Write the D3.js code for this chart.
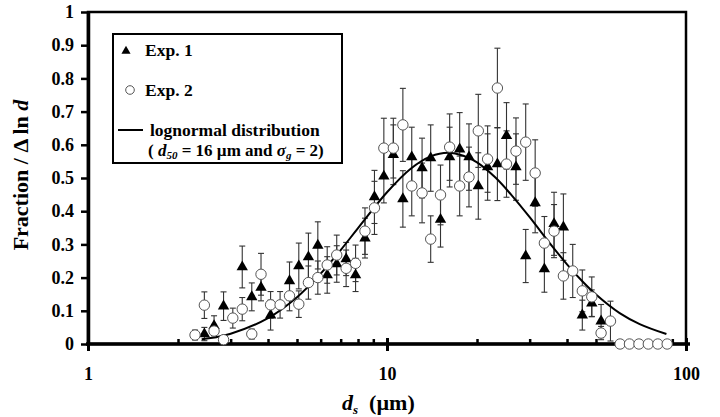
<!DOCTYPE html>
<html>
<head>
<meta charset="utf-8">
<script src="https://cdn.jsdelivr.net/npm/d3@7"></script>
<style>
body { margin: 0; background: #fff; }
.axis path, .axis line { stroke: #000; }
.errbar { stroke: #333; stroke-width: 1.1; }
</style>
</head>
<body>
<svg id="chart" width="720" height="417"></svg>
<script>
// Exp. 1 (triangles): particle size, fraction / dln d, error
const exp1D = [2.45, 2.64, 2.84, 3.28, 3.53, 3.79, 4.08, 4.72, 5.07, 5.46, 5.87, 6.31, 6.79, 7.30, 7.85, 8.44, 9.08, 9.76, 10.5, 11.3,
               12.1, 13.1, 14.0, 15.1, 16.2, 17.5, 18.8, 20.2, 21.7, 23.4, 25.1, 27.0, 29.1, 31.3, 33.6, 36.2, 38.9, 45.0, 48.4, 52.0];
const exp1Y = [0.03, 0.055, 0.114, 0.232, 0.142, 0.17, 0.087, 0.19, 0.235, 0.262, 0.297, 0.208, 0.241, 0.256, 0.208, 0.319, 0.443, 0.505, 0.57, 0.437,
               0.563, 0.53, 0.56, 0.375, 0.563, 0.587, 0.563, 0.476, 0.533, 0.542, 0.627, 0.533, 0.265, 0.425, 0.226, 0.362, 0.352, 0.087, 0.123, 0.069];
const exp1Err = [0.02, 0.03, 0.043, 0.063, 0.042, 0.04, 0.045, 0.057, 0.069, 0.072, 0.071, 0.055, 0.055, 0.05, 0.05, 0.06, 0.08, 0.08, 0.09, 0.085,
                 0.09, 0.09, 0.1, 0.083, 0.09, 0.11, 0.1, 0.1, 0.1, 0.11, 0.1, 0.1, 0.08, 0.09, 0.07, 0.095, 0.1, 0.045, 0.04, 0.05];

// Exp. 2 (open circles)
const exp2D = [2.28, 2.45, 2.64, 2.84, 3.05, 3.28, 3.53, 3.79, 4.08, 4.39, 4.72, 5.07, 5.46, 5.87, 6.31, 6.79, 7.30, 7.85, 8.44, 9.08,
               9.76, 10.5, 11.3, 12.1, 13.1, 14.0, 15.1, 16.2, 17.5, 18.8, 20.2, 21.7, 23.4, 25.1, 27.0, 29.1, 31.3, 33.6, 36.2, 38.9,
               41.8, 45.0, 48.4, 52.0, 55.9, 60.2, 64.7, 69.6, 74.8, 80.5, 86.5];
const exp2Y = [0.027, 0.117, 0.039, 0.013, 0.078, 0.105, 0.03, 0.21, 0.118, 0.118, 0.145, 0.12, 0.185, 0.20, 0.238, 0.268, 0.228, 0.243, 0.34, 0.41,
               0.59, 0.59, 0.66, 0.476, 0.455, 0.316, 0.449, 0.593, 0.476, 0.503, 0.642, 0.557, 0.771, 0.542, 0.581, 0.608, 0.515, 0.304, 0.34, 0.205,
               0.22, 0.16, 0.142, 0.033, 0.069, 0, 0, 0, 0, 0, 0];
const exp2Err = [0.015, 0.04, 0.02, 0.01, 0.03, 0.035, 0.015, 0.063, 0.04, 0.04, 0.045, 0.04, 0.05, 0.05, 0.055, 0.06, 0.055, 0.055, 0.07, 0.08,
                 0.09, 0.09, 0.11, 0.09, 0.09, 0.07, 0.09, 0.1, 0.09, 0.09, 0.11, 0.1, 0.12, 0.1, 0.1, 0.115, 0.1, 0.08, 0.08, 0.07,
                 0.08, 0.063, 0.06, 0.02, 0.06, 0, 0, 0, 0, 0, 0];

// lognormal curve (d50 = 16 um, sigma_g = 2)
const curveD = [2.4, 3, 4, 5, 6, 7, 8, 10, 12, 14, 16, 18, 20, 23, 26, 30, 35, 40, 45, 50, 60, 70, 86];
const curveY = [0.014, 0.031, 0.078, 0.141, 0.212, 0.283, 0.349, 0.457, 0.528, 0.565, 0.576, 0.567, 0.547, 0.502, 0.450, 0.382, 0.304, 0.240, 0.189, 0.149, 0.093, 0.060, 0.030];

const yTicks = [0, 0.1, 0.2, 0.3, 0.4, 0.5, 0.6, 0.7, 0.8, 0.9, 1];
const xMajor = [1, 10, 100];
const xMinor = [2, 3, 4, 5, 6, 7, 8, 9, 20, 30, 40, 50, 60, 70, 80, 90];

const svg = d3.select("#chart");
const plotLeft = 88, plotRight = 686, plotTop = 12, plotBottom = 344;
const serif = '"Liberation Serif"';

// every text gets the serif face inline
function times(sel) {
    return sel.style("font-family", serif).style("font-weight", "bold").style("fill", "#000").style("white-space", "pre");
}

const x = d3.scaleLog().domain([1, 100]).range([plotLeft, plotRight]);
const y = d3.scaleLinear().domain([0, 1]).range([plotBottom, plotTop]);

// frame
svg.append("rect")
    .attr("x", plotLeft).attr("y", plotTop)
    .attr("width", plotRight - plotLeft).attr("height", plotBottom - plotTop)
    .attr("fill", "none").attr("stroke", "#000").attr("stroke-width", 2.5);

// y axis
const yAxis = svg.append("g").attr("class", "axis")
    .attr("transform", `translate(${plotLeft},0)`)
    .call(d3.axisLeft(y).tickValues(yTicks).tickFormat(d3.format("")).tickSizeInner(7).tickSizeOuter(0).tickPadding(7));
yAxis.select(".domain").attr("stroke-width", 3.5);
yAxis.selectAll(".tick line").attr("stroke-width", 2.5);
times(yAxis.selectAll("text")).attr("font-size", 18);

// x axis
svg.append("line")
    .attr("x1", plotLeft - 2).attr("x2", plotRight + 4)
    .attr("y1", plotBottom).attr("y2", plotBottom)
    .attr("stroke", "#000").attr("stroke-width", 3.5);

const xAxis = svg.append("g").attr("class", "axis")
    .attr("transform", `translate(0,${plotBottom})`)
    .call(d3.axisBottom(x).tickValues(xMajor).tickFormat(d3.format("d")).tickSizeInner(7).tickSizeOuter(0).tickPadding(16));
xAxis.select(".domain").remove();
xAxis.selectAll(".tick line").attr("y1", -6).attr("stroke-width", 3);
times(xAxis.selectAll("text")).attr("font-size", 18);

const xMinorAxis = svg.append("g").attr("class", "axis")
    .attr("transform", `translate(0,${plotBottom})`)
    .call(d3.axisTop(x).tickValues(xMinor).tickFormat("").tickSize(5));
xMinorAxis.select(".domain").remove();
xMinorAxis.selectAll("text").remove();
xMinorAxis.selectAll(".tick line").attr("stroke-width", 2.5);

// error bars
function drawErrors(ds, ys, es) {
    const g = svg.append("g");
    ds.forEach((d, i) => {
        if (es[i] <= 0) return;
        const cx = x(d), y0 = y(Math.max(0, ys[i] - es[i])), y1 = y(ys[i] + es[i]);
        g.append("line").attr("class", "errbar").attr("x1", cx).attr("x2", cx).attr("y1", y0).attr("y2", y1);
        g.append("line").attr("class", "errbar").attr("x1", cx - 3).attr("x2", cx + 3).attr("y1", y0).attr("y2", y0);
        g.append("line").attr("class", "errbar").attr("x1", cx - 3).attr("x2", cx + 3).attr("y1", y1).attr("y2", y1);
    });
}
drawErrors(exp1D, exp1Y, exp1Err);
drawErrors(exp2D, exp2Y, exp2Err);

// lognormal curve
svg.append("path")
    .datum(curveD.map((d, i) => [d, curveY[i]]))
    .attr("fill", "none").attr("stroke", "#000").attr("stroke-width", 2)
    .attr("d", d3.line().x(p => x(p[0])).y(p => y(p[1])).curve(d3.curveCatmullRom));

// Exp. 1 triangles
const tri = d3.symbol().type(d3.symbolTriangle).size(56);
svg.append("g").selectAll("path")
    .data(exp1D.map((d, i) => [d, exp1Y[i]]))
    .join("path")
    .attr("d", tri)
    .attr("transform", p => `translate(${x(p[0])},${y(p[1])})`)
    .attr("fill", "#000");

// Exp. 2 circles
svg.append("g").selectAll("circle")
    .data(exp2D.map((d, i) => [d, exp2Y[i]]))
    .join("circle")
    .attr("cx", p => x(p[0])).attr("cy", p => y(p[1])).attr("r", 5.2)
    .attr("fill", "#fff").attr("stroke", "#555").attr("stroke-width", 1);

// legend
const lg = svg.append("g");
lg.append("rect").attr("x", 113).attr("y", 34).attr("width", 229).attr("height", 129)
    .attr("fill", "#fff").attr("stroke", "#000").attr("stroke-width", 2);
lg.append("path").attr("d", d3.symbol().type(d3.symbolTriangle).size(36))
    .attr("transform", "translate(126,51)").attr("fill", "#000");
times(lg.append("text")).attr("x", 145).attr("y", 56).attr("font-size", 17.5).text("Exp. 1");
lg.append("circle").attr("cx", 130).attr("cy", 90).attr("r", 4.3)
    .attr("fill", "#fff").attr("stroke", "#555").attr("stroke-width", 1);
times(lg.append("text")).attr("x", 145).attr("y", 96).attr("font-size", 17.5).text("Exp. 2");
lg.append("line").attr("x1", 118).attr("x2", 143).attr("y1", 130).attr("y2", 130)
    .attr("stroke", "#000").attr("stroke-width", 2);
times(lg.append("text")).attr("x", 150).attr("y", 136).attr("font-size", 17.5).text("lognormal distribution");
const note = times(lg.append("text")).attr("x", 148).attr("y", 156).attr("font-size", 17);
note.append("tspan").text("( ");
note.append("tspan").attr("font-style", "italic").text("d");
note.append("tspan").attr("font-style", "italic").attr("font-size", 11).attr("dy", 3).text("50");
note.append("tspan").attr("dy", -3).text(" = 16 µm and ");
note.append("tspan").attr("font-style", "italic").text("σ");
note.append("tspan").attr("font-style", "italic").attr("font-size", 11).attr("dy", 3).text("g");
note.append("tspan").attr("dy", -3).text(" = 2)");

// axis titles
const yt = times(svg.append("text"))
    .attr("transform", "translate(28,175) rotate(-90)")
    .attr("text-anchor", "middle").attr("font-size", 22);
yt.append("tspan").text("Fraction / Δ ln ");
yt.append("tspan").attr("font-style", "italic").text("d");

const xt = times(svg.append("text")).attr("x", 342).attr("y", 410).attr("font-size", 22);
xt.append("tspan").attr("font-style", "italic").text("d");
xt.append("tspan").attr("font-style", "italic").attr("font-size", 13).attr("dy", 4).text("s");
xt.append("tspan").attr("dy", -4).text("  (µm)");
</script>
</body>
</html>
